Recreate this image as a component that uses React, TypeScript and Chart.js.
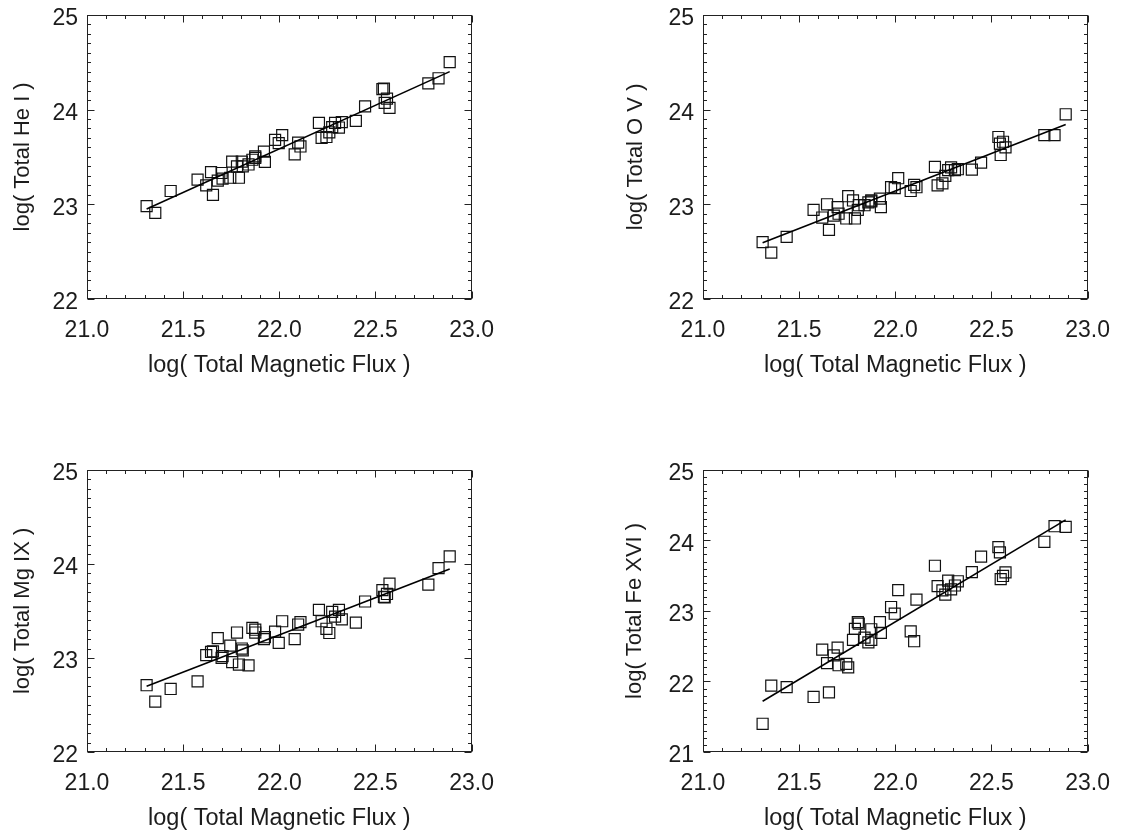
import React, { useEffect, useRef } from 'react';
import { Chart, registerables } from 'chart.js';

Chart.register(...registerables);

// ---- data ----
const fluxX = [21.31, 21.355, 21.435, 21.575, 21.62, 21.645, 21.655, 21.68, 21.70, 21.705, 21.745, 21.755, 21.78, 21.79, 21.805, 21.81, 21.84, 21.86, 21.875, 21.875, 21.92, 21.925, 21.978, 21.997, 22.015, 22.08, 22.098, 22.11, 22.206, 22.22, 22.245, 22.26, 22.275, 22.29, 22.31, 22.325, 22.398, 22.446, 22.536, 22.544, 22.548, 22.56, 22.573, 22.775, 22.828, 22.886];

const heI = [22.98, 22.91, 23.14, 23.26, 23.20, 23.34, 23.10, 23.25, 23.33, 23.27, 23.28, 23.45, 23.40, 23.28, 23.45, 23.40, 23.42, 23.47, 23.505, 23.49, 23.556, 23.447, 23.68, 23.645, 23.73, 23.526, 23.65, 23.61, 23.86, 23.70, 23.71, 23.76, 23.815, 23.86, 23.81, 23.867, 23.88, 24.034, 24.215, 24.22, 24.07, 24.116, 24.017, 24.276, 24.33, 24.50];

const oV = [22.60, 22.49, 22.655, 22.94, 22.86, 23.0, 22.73, 22.88, 22.97, 22.90, 22.85, 23.085, 23.04, 22.85, 22.94, 22.99, 22.99, 23.02, 23.04, 23.03, 23.06, 22.97, 23.18, 23.17, 23.275, 23.14, 23.205, 23.18, 23.395, 23.20, 23.22, 23.30, 23.36, 23.39, 23.36, 23.37, 23.365, 23.44, 23.71, 23.64, 23.52, 23.66, 23.60, 23.73, 23.73, 23.95];

const mgIX = [22.71, 22.535, 22.67, 22.75, 23.03, 23.065, 23.07, 23.21, 23.00, 23.02, 23.13, 22.955, 23.27, 22.93, 23.10, 23.08, 22.92, 23.32, 23.27, 23.30, 23.20, 23.22, 23.28, 23.16, 23.39, 23.20, 23.355, 23.38, 23.51, 23.39, 23.31, 23.265, 23.49, 23.44, 23.51, 23.41, 23.375, 23.60, 23.72, 23.65, 23.645, 23.68, 23.79, 23.78, 23.955, 24.08];

const feXVI = [21.40, 21.94, 21.92, 21.78, 22.45, 22.26, 21.845, 22.37, 22.48, 22.23, 22.25, 22.20, 22.59, 22.745, 22.84, 22.82, 22.62, 22.555, 22.74, 22.59, 22.84, 22.69, 23.055, 22.96, 23.295, 22.71, 22.57, 23.16, 23.64, 23.35, 23.29, 23.23, 23.43, 23.305, 23.36, 23.42, 23.55, 23.77, 23.905, 23.83, 23.45, 23.495, 23.545, 23.98, 24.2, 24.19];

const fitFluxX = [21.31, 22.886];
const fitHeI = [22.95, 24.40];
const fitOV = [22.594, 23.843];
const fitMgIX = [22.70, 23.945];
const fitFeXVI = [21.72, 24.29];

const xRange = [21, 23];
const xTickStep = 0.5;
const yTickStep = 1;
const xTitle = 'log( Total Magnetic Flux )';
const yTitles = ['log( Total He I )', 'log( Total O V )', 'log( Total Mg IX )', 'log( Total Fe XVI )'];
const yRanges = [[22, 25], [22, 25], [22, 25], [21, 25]];

// ---- styling / layout ----
const FONT = '"Liberation Sans", Arial, Helvetica, sans-serif';
const TEXT = '#1c1c1c';
const PAD_TOP = 14;
const PAD_RIGHT = 30;
const Y_AXIS_W = 87;
const X_AXIS_H = 81;
const CANVAS_W = Y_AXIS_W + 395 + PAD_RIGHT;

const frameTicks = {
  id: 'frameTicks',
  afterDatasetsDraw(chart: any) {
    const { ctx, chartArea: a, scales } = chart;
    const xs = scales.x;
    const ys = scales.y;
    ctx.save();
    ctx.strokeStyle = '#222';
    ctx.lineWidth = 1;
    const L = Math.round(a.left) + 0.5;
    const R = Math.round(a.right) - 0.5;
    const T = Math.round(a.top) + 0.5;
    const B = Math.round(a.bottom) - 0.5;
    ctx.strokeRect(L, T, R - L, B - T);
    ctx.beginPath();
    const xn = Math.round((xs.max - xs.min) / 0.1);
    for (let i = 0; i <= xn; i++) {
      const v = xs.min + i * 0.1;
      const px = Math.round(xs.getPixelForValue(v)) + 0.5;
      const len = i % 5 === 0 ? 7 : 3.5;
      ctx.moveTo(px, B);
      ctx.lineTo(px, B - len);
      ctx.moveTo(px, T);
      ctx.lineTo(px, T + len);
    }
    const yn = Math.round((ys.max - ys.min) / 0.1);
    for (let i = 0; i <= yn; i++) {
      const v = ys.min + i * 0.1;
      const py = Math.round(ys.getPixelForValue(v)) + 0.5;
      const len = i % 10 === 0 ? 7 : 3.5;
      ctx.moveTo(L, py);
      ctx.lineTo(L + len, py);
      ctx.moveTo(R, py);
      ctx.lineTo(R - len, py);
    }
    ctx.stroke();
    ctx.restore();
  },
};

type PanelCfg = {
  ys: number[];
  fit: number[];
  yTitle: string;
  yRange: number[];
  left: number;
  top: number;
  plotH: number;
  titlePad: number;
};

function Panel({ cfg }: { cfg: PanelCfg }) {
  const ref = useRef<HTMLCanvasElement>(null);
  const height = PAD_TOP + cfg.plotH + X_AXIS_H;
  useEffect(() => {
    const pts = fluxX.map((x, i) => ({ x, y: cfg.ys[i] }));
    const fitPts = fitFluxX.map((x, i) => ({ x, y: cfg.fit[i] }));
    const chart = new Chart(ref.current as HTMLCanvasElement, {
      type: 'scatter',
      data: {
        datasets: [
          {
            type: 'line',
            data: fitPts,
            borderColor: '#000',
            borderWidth: 1.6,
            pointRadius: 0,
            fill: false,
          } as any,
          {
            type: 'scatter',
            data: pts,
            pointStyle: 'rect',
            pointRadius: 7.8,
            pointHoverRadius: 7.8,
            borderColor: '#111',
            pointBorderColor: '#111',
            backgroundColor: 'rgba(0,0,0,0)',
            pointBackgroundColor: 'rgba(0,0,0,0)',
            borderWidth: 1.2,
            pointBorderWidth: 1.2,
          } as any,
        ],
      },
      options: {
        responsive: false,
        animation: false,
        events: [],
        layout: { padding: { top: PAD_TOP, right: PAD_RIGHT, left: 0, bottom: 0 } },
        plugins: { legend: { display: false }, tooltip: { enabled: false } },
        scales: {
          x: {
            type: 'linear',
            position: 'bottom',
            min: xRange[0],
            max: xRange[1],
            afterFit: (s: any) => {
              s.height = X_AXIS_H;
            },
            grid: { display: false, drawTicks: false },
            border: { display: false },
            ticks: {
              stepSize: xTickStep,
              callback: (v: any) => Number(v).toFixed(1),
              padding: 18,
              autoSkip: false,
              maxRotation: 0,
              color: TEXT,
              font: { family: FONT, size: 23 },
            },
            title: {
              display: true,
              text: xTitle,
              color: TEXT,
              font: { family: FONT, size: 23.5 },
              padding: { top: 0, bottom: 0 },
            },
          },
          y: {
            type: 'linear',
            position: 'left',
            min: cfg.yRange[0],
            max: cfg.yRange[1],
            afterFit: (s: any) => {
              s.width = Y_AXIS_W;
            },
            grid: { display: false, drawTicks: false },
            border: { display: false },
            ticks: {
              stepSize: yTickStep,
              padding: 9,
              labelOffset: 4,
              color: TEXT,
              font: { family: FONT, size: 23 },
            },
            title: {
              display: true,
              text: cfg.yTitle,
              color: TEXT,
              font: { family: FONT, size: 22 },
              padding: { top: cfg.titlePad, bottom: 0 },
            },
          },
        },
      } as any,
      plugins: [frameTicks],
    });
    return () => chart.destroy();
  }, []);
  return (
    <canvas
      ref={ref}
      width={CANVAS_W}
      height={height}
      style={{ position: 'absolute', left: cfg.left, top: cfg.top, width: CANVAS_W, height }}
    />
  );
}

const panels: PanelCfg[] = [
  { ys: heI, fit: fitHeI, yTitle: yTitles[0], yRange: yRanges[0], left: 0, top: -8, plotH: 293, titlePad: 9.8 },
  { ys: oV, fit: fitOV, yTitle: yTitles[1], yRange: yRanges[1], left: 616, top: -8, plotH: 293, titlePad: 6.8 },
  { ys: mgIX, fit: fitMgIX, yTitle: yTitles[2], yRange: yRanges[2], left: 0, top: 447, plotH: 291, titlePad: 9.3 },
  { ys: feXVI, fit: fitFeXVI, yTitle: yTitles[3], yRange: yRanges[3], left: 616, top: 447, plotH: 291, titlePad: 5.8 },
];

export default function App() {
  return (
    <div
      style={{
        position: 'absolute',
        left: 0,
        top: 0,
        width: 1134,
        height: 834,
        overflow: 'hidden',
        background: '#fff',
      }}
    >
      {panels.map((p, i) => (
        <Panel key={i} cfg={p} />
      ))}
    </div>
  );
}
